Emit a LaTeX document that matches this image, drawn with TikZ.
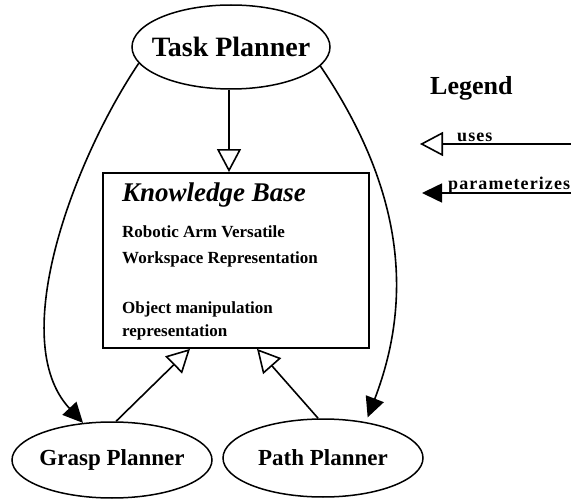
\documentclass[tikz,border=0pt]{standalone}
\usepackage{fontspec}
\setmainfont{Liberation Serif}
\usetikzlibrary{arrows.meta,shapes.geometric}
\tikzstyle{planner} = [draw, ellipse, line width=1.5pt, inner sep=0pt]
\tikzstyle{plannertext} = [inner sep=0pt, font=\fontsize{23}{25}\selectfont\bfseries]
\tikzstyle{kbtext} = [anchor=base west, inner sep=0pt, font=\fontsize{17}{19}\selectfont\bfseries]
\tikzstyle{legendtext} = [anchor=base west, inner sep=0pt, font=\fontsize{18}{20}\selectfont\bfseries\addfontfeature{LetterSpace=6}]
\tikzstyle{uses} = [line width=1.6pt, -{Triangle[open,length=23pt,width=24pt]}]
\tikzstyle{param} = [line width=1.6pt, -{Triangle[length=20pt,width=19pt]}]

\begin{document}
\begin{tikzpicture}[x=1pt,y=1pt]
    \useasboundingbox (0,0) rectangle (571,-500);

    % Planners
    \node[planner, minimum width=198pt, minimum height=84pt,
          label={[plannertext, font=\fontsize{28}{30}\selectfont\bfseries]center:Task Planner}] (task) at (231,-47) {};
    \node[planner, minimum width=200pt, minimum height=76pt,
          label={[plannertext]center:Grasp Planner}] (grasp) at (112,-460) {};
    \node[planner, minimum width=200pt, minimum height=78pt,
          label={[plannertext]center:Path Planner}] (path) at (323,-458) {};

    % Knowledge base
    \node[draw, line width=1.8pt, minimum width=266pt, minimum height=175pt, inner sep=0pt] (kb) at (236,-260.5) {};
    \node[kbtext, font=\fontsize{27}{29}\selectfont\bfseries\itshape] (kbtitle) at (122,-201.5) {Knowledge Base};
    \node[kbtext] (kbarm) at (122,-238) {Robotic Arm Versatile};
    \node[kbtext] (kbws) at (122,-263) {Workspace Representation};
    \node[kbtext] (kbobj) at (122,-313) {Object manipulation};
    \node[kbtext] (kbrep) at (122,-336) {representation};

    % Connectors
    \draw[uses] ([xshift=-2pt]task.south) -- ([xshift=-2pt]task.south |- kb.north);
    \draw[uses] (grasp.84) -- ([xshift=-46pt]kb.south);
    \draw[uses] (path.97) -- ([xshift=21pt]kb.south);
    \draw[param] (task.190) to[out=236, in=133, looseness=0.8] (grasp.128);
    \draw[param, shorten >=5pt] (task.348) to[out=-56, in=69] (path.40);

    % Legend
    \node[anchor=base west, inner sep=0pt, font=\fontsize{26}{28}\selectfont\bfseries] (legend) at (430,-95) {Legend};
    \coordinate (usesfrom) at (571,-144);
    \coordinate (usesto) at (420,-144);
    \draw[uses] (usesfrom) -- (usesto);
    \node[legendtext] (usestext) at (457,-141.5) {uses};
    \coordinate (paramfrom) at (571,-193);
    \coordinate (paramto) at (422,-193);
    \draw[param] (paramfrom) -- (paramto);
    \node[legendtext] (paramtext) at (448,-190) {parameterizes};
\end{tikzpicture}
\end{document}
